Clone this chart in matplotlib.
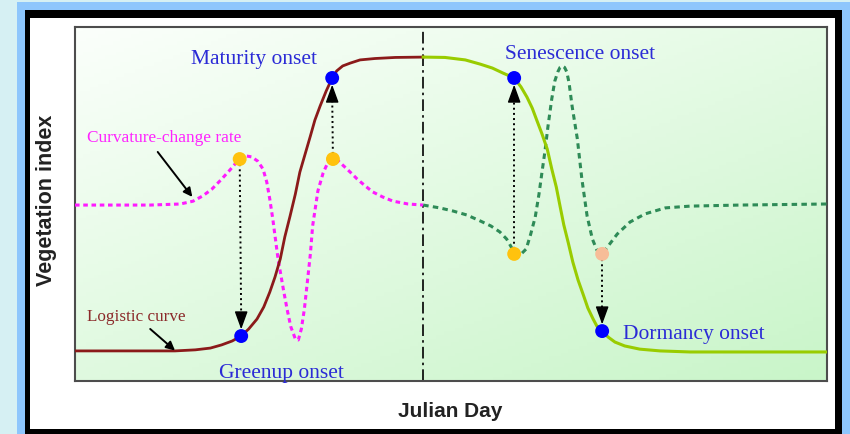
import numpy as np
import matplotlib
matplotlib.use("Agg")
from matplotlib import pyplot as plt
from matplotlib.patches import Rectangle
from matplotlib.colors import LinearSegmentedColormap

# curves (x: day scale 0-100, y: index 0-100)
logistic_x = [0, 10.0, 13.3, 16.0, 18.0, 19.5, 20.9, 22.1, 23.1, 24.2, 25.1, 25.9, 26.6,
              27.3, 27.9, 28.6, 29.3, 29.9, 30.6, 31.3, 31.9, 32.6, 33.4, 34.2, 34.8,
              35.6, 36.6, 37.9, 39.9, 42.6, 46.3]
logistic_y = [8.5, 8.5, 8.5, 8.8, 9.3, 10.2, 11.3, 12.7, 14.7, 17.5, 20.9, 25.1, 29.4,
              34.5, 40.7, 46.6, 52.8, 59.0, 64.1, 69.2, 73.7, 77.7, 81.9, 85.6, 87.6,
              89.0, 89.8, 90.7, 91.1, 91.4, 91.5]

senesce_x = [46.3, 49.2, 51.9, 53.9, 55.5, 56.9, 58.4, 59.3, 60.1, 60.8, 61.4, 62.1,
             62.8, 63.4, 64.0, 64.5, 65.0, 65.6, 66.2, 66.9, 67.6, 68.2, 68.9, 69.4,
             70.1, 70.9, 71.8, 73.1, 75.1, 77.8, 81.8, 100]
senesce_y = [91.5, 91.4, 90.7, 89.5, 88.4, 87.0, 85.6, 83.1, 80.2, 77.1, 73.7, 69.8,
             65.5, 59.9, 54.8, 49.4, 44.1, 39.0, 33.6, 28.5, 24.3, 20.6, 17.5, 15.5,
             14.1, 12.4, 11.0, 9.9, 9.0, 8.5, 8.2, 8.2]

curv_up_x = [0, 10.0, 14.0, 15.7, 17.0, 18.2, 19.4, 20.6, 21.4, 21.9, 22.7, 23.5, 24.3,
             25.0, 25.5, 25.9, 26.3, 27.0, 27.7, 28.2, 28.7, 29.3, 29.7, 30.1, 30.5,
             30.9, 31.3, 31.6, 32.3, 33.0, 33.6, 34.3, 34.9, 35.6, 36.6, 37.5, 38.6,
             39.6, 40.9, 42.3, 44.3, 46.3]
curv_up_y = [49.7, 49.7, 50.0, 50.8, 52.3, 54.2, 56.8, 59.6, 61.6, 62.7, 63.6, 63.3, 62.1,
             59.9, 56.2, 51.4, 45.8, 34.5, 26.0, 20.3, 15.3, 11.9, 11.6, 14.7, 20.3,
             28.0, 35.9, 43.8, 53.7, 58.8, 61.6, 62.7, 62.4, 61.0, 59.0, 57.1, 55.1,
             53.4, 52.0, 50.8, 50.0, 49.7]

curv_down_x = [46.3, 48.5, 50.3, 52.1, 53.9, 55.3, 56.5, 57.4, 58.0, 58.4, 59.2, 60.0,
               60.6, 61.2, 61.7, 62.1, 62.5, 62.9, 63.4, 63.8, 64.2, 64.5, 64.8, 65.1,
               65.4, 65.7, 66.1, 66.8, 67.4, 68.1, 68.8, 69.4, 69.8, 70.3, 71.0, 72.1,
               73.8, 75.8, 78.5, 81.8, 88.4, 100]
curv_down_y = [49.7, 48.9, 48.0, 46.9, 45.2, 43.8, 42.1, 40.1, 37.9, 35.9, 35.6, 37.3,
               41.5, 46.3, 52.8, 59.0, 65.0, 72.0, 79.7, 84.7, 87.3, 88.6, 89.0, 88.6,
               87.3, 84.2, 77.7, 68.4, 57.1, 46.6, 40.1, 37.0, 35.9, 36.4, 38.4, 41.5,
               44.9, 47.2, 48.9, 49.4, 49.7, 50.0]

onset_labels = ["Greenup onset", "Maturity onset", "Senescence onset", "Dormancy onset"]
onset_x = [22.1, 34.2, 58.4, 70.1]
onset_y = [12.7, 85.6, 85.6, 14.1]
rate_x = [21.9, 34.3, 58.4, 70.1]
rate_y = [62.7, 62.7, 35.9, 35.9]
rate_colors = ["#ffc20e", "#ffc20e", "#ffc20e", "#f7bd98"]
split_day = 46.3

W, H = 850, 435
fig = plt.figure(figsize=(8.5, 4.35), dpi=100, facecolor="#d6f0f3")

def px_rect(x0, y0, x1, y1, color):
    fig.add_artist(Rectangle((x0 / W, 1 - y1 / H), (x1 - x0) / W, (y1 - y0) / H,
                             transform=fig.transFigure, facecolor=color,
                             edgecolor="none", zorder=-10))

px_rect(17, 3, 850, 435, "#8ec6fc")
px_rect(25, 11, 842, 435, "black")
px_rect(30, 19, 835, 430, "white")

ax = fig.add_axes([75 / W, 1 - 382 / H, (827 - 75) / W, (382 - 28) / H])
ax.set_xlim(0, 100)
ax.set_ylim(0, 100)

# light diagonal green background, white at top left
gx, gy = np.meshgrid(np.linspace(0, 1, 200), np.linspace(0, 1, 100))
grad = 0.45 * gx + 0.55 * gy
cmap = LinearSegmentedColormap.from_list("bg", ["#fbfffb", "#c9f5c9"])
ax.imshow(grad, extent=[0, 100, 0, 100], cmap=cmap, aspect="auto", zorder=0)

for s in ax.spines.values():
    s.set_color("#4d4d4d")
    s.set_linewidth(1.5)
ax.set_xticks([])
ax.set_yticks([])

ax.axvline(split_day, color="black", lw=1.2, ls=(0, (7, 2.5, 1.5, 2.5)), zorder=2)

ax.plot(curv_up_x, curv_up_y, color="#ff1aff", lw=2.2, dashes=(1.5, 1.2), zorder=3)
ax.plot(curv_down_x, curv_down_y, color="#2e8b57", lw=2.2, dashes=(1.8, 1.4), zorder=3)
ax.plot(logistic_x, logistic_y, color="#8b1a1a", lw=2, zorder=4)
ax.plot(senesce_x, senesce_y, color="#99cc00", lw=2.2, zorder=4)

# dotted shafts with solid heads from rate extremes to the onset points
for i in range(4):
    sign = 1 if rate_y[i] > onset_y[i] else -1
    tip = onset_y[i] + sign * 1.9
    ax.plot([rate_x[i], onset_x[i]], [rate_y[i], tip + sign * 3], color="black",
            lw=1.4, ls=":", zorder=5)
    ax.annotate("", xy=(onset_x[i], tip), xytext=(onset_x[i], tip + sign * 4.5),
                arrowprops=dict(arrowstyle="-|>,head_length=1.1,head_width=0.4",
                                color="black", lw=1.0, mutation_scale=10,
                                shrinkA=0, shrinkB=0), zorder=5)

ax.scatter(rate_x, rate_y, s=100, c=rate_colors, zorder=6, edgecolors="none")
ax.scatter(onset_x, onset_y, s=100, c="#0000ff", zorder=6, edgecolors="none")

serif = "Liberation Serif"
blue = "#2b2bd6"
ax.text(23.8, 91.0, onset_labels[1], color=blue, fontsize=15.5, family=serif,
        ha="center", va="center", zorder=7)
ax.text(67.2, 92.4, onset_labels[2], color=blue, fontsize=15.5, family=serif,
        ha="center", va="center", zorder=7)
ax.text(27.4, 2.4, onset_labels[0], color=blue, fontsize=15.5, family=serif,
        ha="center", va="center", zorder=7)
ax.text(72.9, 13.3, onset_labels[3], color=blue, fontsize=15.5, family=serif,
        ha="left", va="center", zorder=7)

ax.text(1.6, 68.9, "Curvature-change rate", color="#ff22ff", fontsize=12.4,
        family=serif, ha="left", va="center", zorder=7)
ax.text(1.6, 18.4, "Logistic curve", color="#8b2a2a", fontsize=12.3,
        family=serif, ha="left", va="center", zorder=7)

ax.annotate("", xy=(15.6, 52.0), xytext=(11.0, 64.7),
            arrowprops=dict(arrowstyle="-|>", color="black", lw=1.4,
                            mutation_scale=13, shrinkA=0, shrinkB=0), zorder=7)
ax.annotate("", xy=(13.3, 8.6), xytext=(10.0, 14.7),
            arrowprops=dict(arrowstyle="-|>", color="black", lw=1.4,
                            mutation_scale=13, shrinkA=0, shrinkB=0), zorder=7)

fig.text(47 / W, 1 - 200 / H, "Vegetation index", rotation=90, fontsize=15.5,
         fontweight="bold", family="Liberation Sans", ha="center", va="center",
         color="#222222")
fig.text(450 / W, 1 - 412 / H, "Julian Day", fontsize=15, fontweight="bold",
         family="Liberation Sans", ha="center", va="center", color="#222222")

fig.savefig("out.png", dpi=100, facecolor=fig.get_facecolor())
